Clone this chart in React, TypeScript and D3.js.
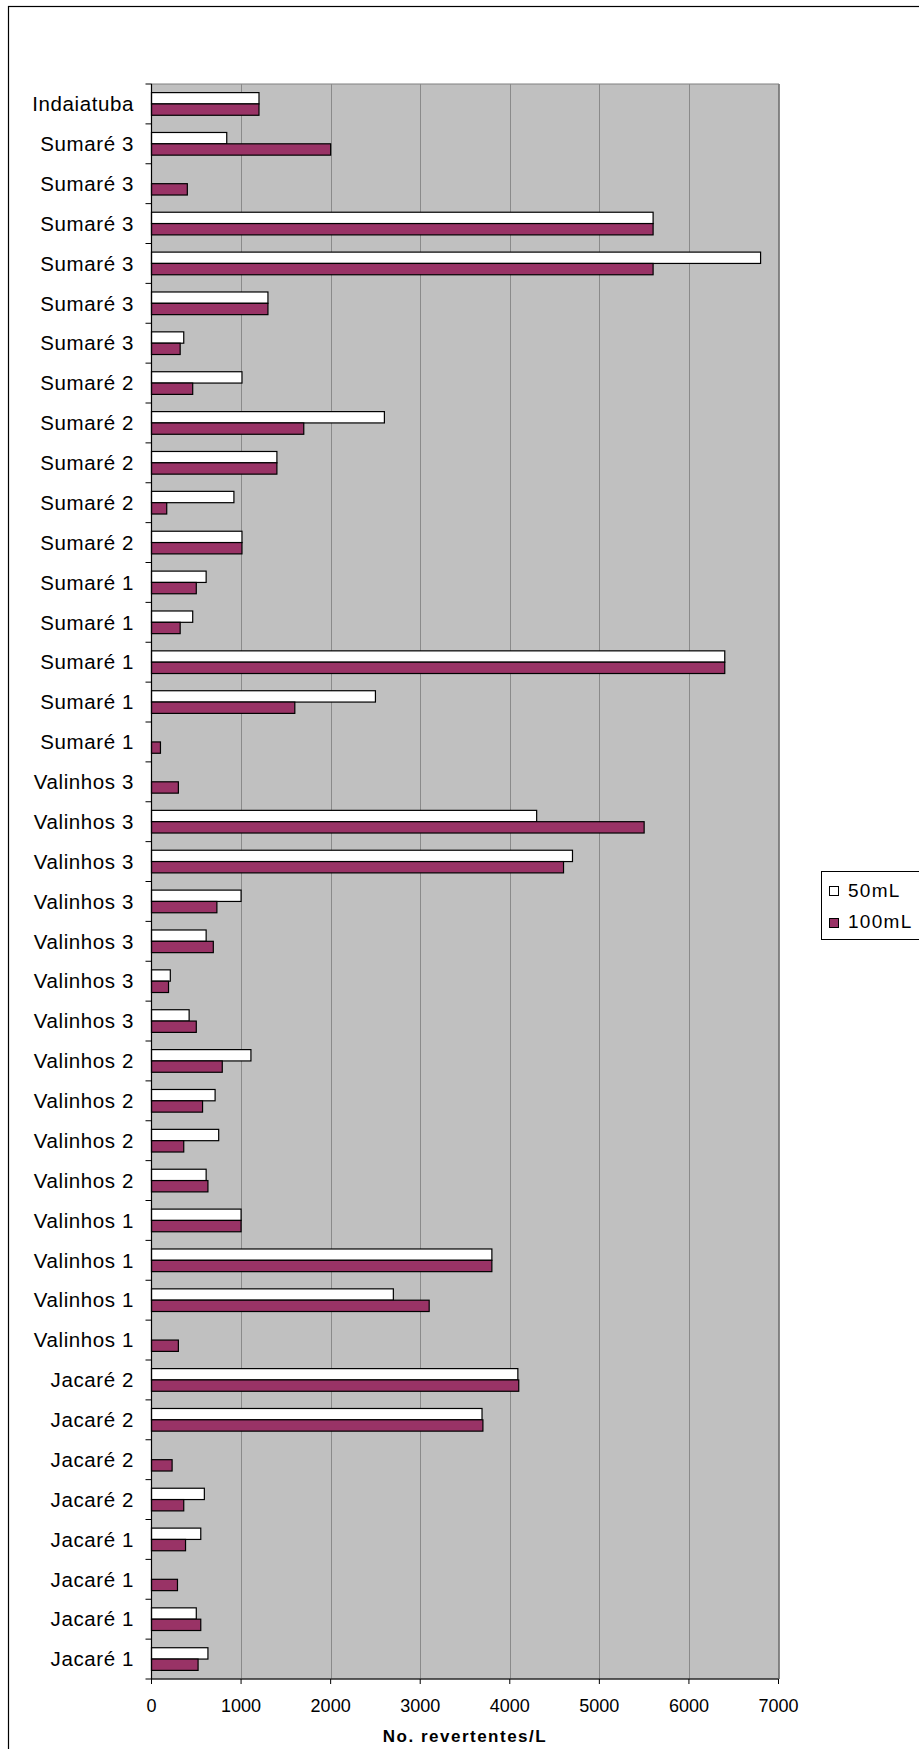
import React from "react";
import * as d3 from "d3";

// Sampling sites, listed top to bottom as drawn
const categories: string[] = [
  "Indaiatuba",
  "Sumaré 3", "Sumaré 3", "Sumaré 3", "Sumaré 3", "Sumaré 3", "Sumaré 3",
  "Sumaré 2", "Sumaré 2", "Sumaré 2", "Sumaré 2", "Sumaré 2",
  "Sumaré 1", "Sumaré 1", "Sumaré 1", "Sumaré 1", "Sumaré 1",
  "Valinhos 3", "Valinhos 3", "Valinhos 3", "Valinhos 3", "Valinhos 3", "Valinhos 3", "Valinhos 3",
  "Valinhos 2", "Valinhos 2", "Valinhos 2", "Valinhos 2",
  "Valinhos 1", "Valinhos 1", "Valinhos 1", "Valinhos 1",
  "Jacaré 2", "Jacaré 2", "Jacaré 2", "Jacaré 2",
  "Jacaré 1", "Jacaré 1", "Jacaré 1", "Jacaré 1",
];

// No. revertentes/L for the 50 mL sample volume
const values50: number[] = [
  1200,
  840, 0, 5600, 6800, 1300, 360,
  1010, 2600, 1400, 920, 1010,
  610, 460, 6400, 2500, 0,
  0, 4300, 4700, 1000, 610, 210, 420,
  1110, 710, 750, 610,
  1000, 3800, 2700, 0,
  4090, 3690, 0, 590,
  550, 0, 500, 630,
];

// No. revertentes/L for the 100 mL sample volume
const values100: number[] = [
  1200,
  2000, 400, 5600, 5600, 1300, 320,
  460, 1700, 1400, 170, 1010,
  500, 320, 6400, 1600, 100,
  300, 5500, 4600, 730, 690, 190, 500,
  790, 570, 360, 630,
  1000, 3800, 3100, 300,
  4100, 3700, 230, 360,
  380, 290, 550, 520,
];

const seriesNames: string[] = ["50mL", "100mL"];
const seriesColors: string[] = ["#ffffff", "#993366"];
const xTicks: number[] = [0, 1000, 2000, 3000, 4000, 5000, 6000, 7000];

const W = 919;
const H = 1749;
const plot = { left: 151.5, right: 778.5, top: 84, bottom: 1679 };
const FONT = "'Liberation Sans', Arial, Helvetica, sans-serif";

export default function App() {
  const x = d3.scaleLinear().domain([0, 7000]).range([plot.left, plot.right]);
  const y = d3
    .scaleBand<number>()
    .domain(d3.range(categories.length))
    .range([plot.top, plot.bottom])
    .padding(0);
  const sub = d3
    .scaleBand<number>()
    .domain([0, 1])
    .range([0, y.bandwidth()])
    .paddingInner(0)
    .paddingOuter(0.76);

  const series = [values50, values100];
  const boundaries = d3.range(categories.length + 1).map((i) =>
    i < categories.length ? (y(i) as number) : plot.bottom
  );

  return (
    <svg
      width={W}
      height={H}
      viewBox={`0 0 ${W} ${H}`}
      style={{ position: "absolute", left: 0, top: 0, display: "block", background: "#fff" }}
      fontFamily={FONT}
    >
      {/* chart frame */}
      <rect x={8.5} y={6.5} width={1000} height={1800} fill="#fff" stroke="#000" strokeWidth={1.2} />

      {/* plot area */}
      <rect
        x={plot.left}
        y={plot.top}
        width={plot.right - plot.left}
        height={plot.bottom - plot.top}
        fill="#c0c0c0"
        stroke="#808080"
        strokeWidth={1}
      />

      {/* vertical gridlines */}
      {xTicks.slice(1).map((t) => (
        <line
          key={`g${t}`}
          x1={Math.round(x(t)) + 0.5}
          x2={Math.round(x(t)) + 0.5}
          y1={plot.top}
          y2={plot.bottom}
          stroke="#8a8a8a"
          strokeWidth={1}
        />
      ))}

      {/* bars */}
      {series.map((vals, s) =>
        vals.map((v, i) =>
          v > 0 ? (
            <rect
              key={`b${s}-${i}`}
              x={x(0)}
              y={(y(i) as number) + (sub(s) as number)}
              width={x(v) - x(0)}
              height={sub.bandwidth()}
              fill={seriesColors[s]}
              stroke="#000"
              strokeWidth={1.2}
            />
          ) : null
        )
      )}

      {/* category axis */}
      <line x1={plot.left} x2={plot.left} y1={plot.top} y2={plot.bottom} stroke="#000" strokeWidth={1.2} />
      {boundaries.map((b, i) => (
        <line key={`yt${i}`} x1={plot.left - 6} x2={plot.left} y1={b} y2={b} stroke="#000" strokeWidth={1} />
      ))}
      {categories.map((c, i) => (
        <text
          key={`yl${i}`}
          x={134}
          y={(y(i) as number) + y.bandwidth() / 2 + 7.2}
          textAnchor="end"
          fontSize={20.5}
          letterSpacing={0.6}
          fill="#000"
        >
          {c}
        </text>
      ))}

      {/* value axis */}
      <line x1={plot.left} x2={plot.right} y1={plot.bottom} y2={plot.bottom} stroke="#000" strokeWidth={1.2} />
      {xTicks.map((t) => (
        <g key={`xt${t}`}>
          <line x1={x(t)} x2={x(t)} y1={plot.bottom} y2={plot.bottom + 5} stroke="#000" strokeWidth={1} />
          <text x={x(t)} y={1711.5} textAnchor="middle" fontSize={18} fill="#000">
            {t}
          </text>
        </g>
      ))}
      <text
        x={(plot.left + plot.right) / 2}
        y={1742}
        textAnchor="middle"
        fontSize={17}
        fontWeight="bold"
        letterSpacing={1.5}
        fill="#000"
      >
        No. revertentes/L
      </text>

      {/* legend */}
      <rect x={821.5} y={871.5} width={200} height={68} fill="#fff" stroke="#000" strokeWidth={1} />
      {seriesNames.map((n, s) => (
        <g key={`lg${s}`}>
          <rect
            x={829.5}
            y={886.5 + s * 32}
            width={9}
            height={9}
            fill={seriesColors[s]}
            stroke="#000"
            strokeWidth={1}
          />
          <text x={848} y={897 + s * 31} fontSize={19} letterSpacing={1.3} fill="#000">
            {n}
          </text>
        </g>
      ))}
    </svg>
  );
}
